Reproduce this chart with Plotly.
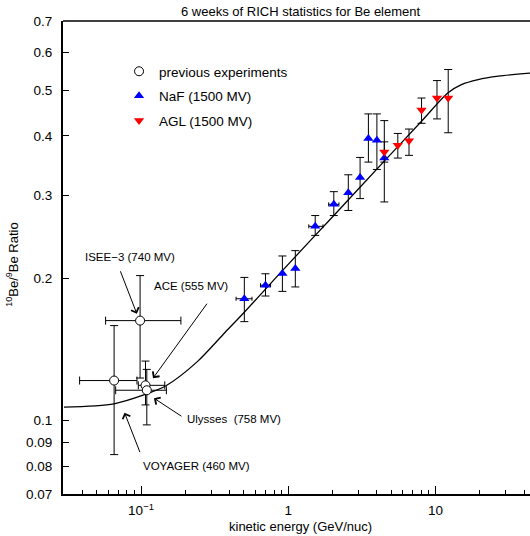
import math
import plotly.graph_objects as go

# ---------------- data ----------------
# previous experiments: ISEE-3, VOYAGER, ACE, Ulysses
prev_x = [0.0986, 0.0657, 0.1073, 0.1095]
prev_y = [0.1628, 0.1216, 0.1188, 0.1160]
prev_y_hi = [0.2027, 0.1589, 0.1337, 0.1284]
prev_y_lo = [0.1231, 0.0848, 0.1080, 0.0980]
prev_x_lo = [0.0575, 0.0383, 0.0959, 0.0673]
prev_x_hi = [0.1866, 0.0939, 0.1450, 0.1487]

# NaF (1500 MV)
naf_x = [0.503, 0.700, 0.912, 1.116, 1.523, 2.037, 2.555, 3.072, 3.498, 3.995, 4.485]
naf_y = [0.1811, 0.1934, 0.2048, 0.2099, 0.2576, 0.2867, 0.3035, 0.3268, 0.3952, 0.3919, 0.3592]
naf_y_hi = [0.2009, 0.2045, 0.2230, 0.2289, 0.2715, 0.3050, 0.3311, 0.3603, 0.4453, 0.4453, 0.3887]
naf_y_lo = [0.1620, 0.1835, 0.1877, 0.1918, 0.2465, 0.2715, 0.2783, 0.2949, 0.3522, 0.3398, 0.2901]
naf_x_lo = [0.442, 0.6475, 0.912, 1.116, 1.378, 1.880, 2.555, 3.072, 3.498, 3.995, 4.485]
naf_x_hi = [0.567, 0.758, 0.912, 1.116, 1.720, 2.206, 2.555, 3.072, 3.498, 3.995, 4.485]

# AGL (1500 MV)
agl_x = [4.485, 5.54, 6.60, 8.03, 10.22, 12.18]
agl_y = [0.3699, 0.3823, 0.3906, 0.4540, 0.4811, 0.4811]
agl_y_hi = [0.4310, 0.4049, 0.4137, 0.4811, 0.5238, 0.5528]
agl_y_lo = [0.3522, 0.3592, 0.3640, 0.4254, 0.4346, 0.4063]

# model curve
model_x = [0.03, 0.0656, 0.1056, 0.1487, 0.2423, 0.3718, 0.5028, 0.912, 2.037,
           4.485, 8.025, 12.1, 14.97, 19.46, 26.7, 45.1]
model_y = [0.1068, 0.1086, 0.1135, 0.1187, 0.1335, 0.1537, 0.1696, 0.2077, 0.2716,
           0.3538, 0.4297, 0.4931, 0.5136, 0.5263, 0.5351, 0.5438]

y_ticks = [0.07, 0.08, 0.09, 0.1, 0.2, 0.3, 0.4, 0.5, 0.6, 0.7]
y_ticktext = ["0.07", "0.08", "0.09", "0.1", "0.2", "0.3", "0.4", "0.5", "0.6", "0.7"]
x_ticks = [0.1, 1, 10]
x_ticktext = ["10<sup>\u22121</sup>", "1", "10"]
x_minor = [0.04, 0.05, 0.06, 0.07, 0.08, 0.09, 0.2, 0.3, 0.4, 0.5, 0.6, 0.7, 0.8, 0.9,
           2, 3, 4, 5, 6, 7, 8, 9, 20, 30, 40]

label_texts = ["ISEE\u22123 (740 MV)", "ACE (555 MV)", "Ulysses  (758 MV)", "VOYAGER (460 MV)"]

FONT = "Liberation Sans"
L = math.log10


def plus(vals, hi):
    return [h - v for v, h in zip(vals, hi)]


def minus(vals, lo):
    return [v - l for v, l in zip(vals, lo)]


eb = dict(type="data", symmetric=False, color="black", thickness=1, width=4)

fig = go.Figure()

fig.add_trace(go.Scatter(
    x=model_x, y=model_y, mode="lines",
    line=dict(color="black", width=1.3, shape="spline", smoothing=0.8),
    showlegend=False, hoverinfo="skip"))

fig.add_trace(go.Scatter(
    x=prev_x, y=prev_y, mode="markers", name="previous experiments", legendgroup="a",
    marker=dict(symbol="circle", size=9, color="white", line=dict(color="black", width=1)),
    error_y=dict(eb, array=plus(prev_y, prev_y_hi), arrayminus=minus(prev_y, prev_y_lo)),
    error_x=dict(eb, array=plus(prev_x, prev_x_hi), arrayminus=minus(prev_x, prev_x_lo))))

fig.add_trace(go.Scatter(
    x=naf_x, y=naf_y, mode="markers", name="NaF (1500 MV)", legendgroup="b",
    marker=dict(symbol="triangle-up", size=9, color="#0000ff", line=dict(width=0)),
    error_y=dict(eb, array=plus(naf_y, naf_y_hi), arrayminus=minus(naf_y, naf_y_lo)),
    error_x=dict(eb, array=plus(naf_x, naf_x_hi), arrayminus=minus(naf_x, naf_x_lo), width=2)))

fig.add_trace(go.Scatter(
    x=agl_x, y=agl_y, mode="markers", name="AGL (1500 MV)", legendgroup="c",
    marker=dict(symbol="triangle-down", size=9, color="#ff0000", line=dict(width=0)),
    error_y=dict(eb, array=plus(agl_y, agl_y_hi), arrayminus=minus(agl_y, agl_y_lo))))

annotations = []
# arrows (tip at data location, tail offset in px)
arrows = [
    (L(0.0937), L(0.1683), -17, -44),   # ISEE-3
    (L(0.1207), L(0.1230), 55, -76),    # ACE
    (L(0.1224), L(0.1116), 29, 19),     # Ulysses
    (L(0.0773), L(0.1040), 16, 41),     # VOYAGER
]
for ax_, ay_, dx, dy in arrows:
    annotations.append(dict(x=ax_, y=ay_, xref="x", yref="y", text="", showarrow=True,
                            ax=dx, ay=dy, axref="pixel", ayref="pixel",
                            arrowhead=4, arrowsize=1.6, arrowwidth=1, arrowcolor="black"))


def px2paper(px, py):
    return (px - 63) / 467.0, (494.3 - py) / 473.3


label_pos = [(83, 257), (152, 286), (185, 419), (141, 466)]
for t, (px, py) in zip(label_texts, label_pos):
    xp, yp = px2paper(px, py)
    annotations.append(dict(x=xp, y=yp, xref="paper", yref="paper", text=t, showarrow=False,
                            xanchor="left", yanchor="middle",
                            font=dict(size=11.5, family=FONT, color="black")))

xp, yp = px2paper(300.5, 11)
annotations.append(dict(x=xp, y=yp, xref="paper", yref="paper", showarrow=False,
                        text="6 weeks of RICH statistics for Be element",
                        xanchor="center", yanchor="middle",
                        font=dict(size=13, family=FONT, color="black")))
xp, yp = px2paper(300, 527)
annotations.append(dict(x=xp, y=yp, xref="paper", yref="paper", showarrow=False,
                        text="kinetic energy (GeV/nuc)",
                        xanchor="center", yanchor="middle",
                        font=dict(size=13, family=FONT, color="black")))
xp, yp = px2paper(12, 265)
annotations.append(dict(x=xp, y=yp, xref="paper", yref="paper", showarrow=False, textangle=-90,
                        text="<sup>10</sup>Be/<sup>9</sup>Be Ratio",
                        xanchor="center", yanchor="middle",
                        font=dict(size=13, family=FONT, color="black")))

fig.update_layout(
    width=530, height=536,
    margin=dict(l=63, r=0, t=21, b=42),
    paper_bgcolor="white", plot_bgcolor="white",
    font=dict(family=FONT, size=13.5, color="black"),
    annotations=annotations,
    shapes=[dict(type="line", xref="paper", yref="paper", x0=0, x1=1, y0=1, y1=1,
                 line=dict(color="black", width=1.5))],
    legend=dict(x=0.120, y=0.926, xanchor="left", yanchor="top", bgcolor="rgba(0,0,0,0)",
                borderwidth=0, font=dict(size=13.5, family=FONT), tracegroupgap=4),
    xaxis=dict(type="log", range=[-1.5295, 1.6409], tickvals=x_ticks, ticktext=x_ticktext,
               ticks="inside", ticklen=8, tickwidth=1, tickcolor="black",
               showline=True, linewidth=2, linecolor="black", showgrid=False, zeroline=False,
               tickfont=dict(size=13.5), ticklabelstandoff=3,
               minor=dict(tickmode="array", tickvals=x_minor, ticks="inside", ticklen=4.5,
                          tickwidth=1, tickcolor="black", showgrid=False)),
    yaxis=dict(type="log", range=[L(0.07), L(0.7)], tickvals=y_ticks, ticktext=y_ticktext,
               ticks="inside", ticklen=6, tickwidth=1, tickcolor="black",
               showline=True, linewidth=2, linecolor="black", showgrid=False, zeroline=False,
               tickfont=dict(size=13.5), ticklabelstandoff=6),
)

fig.write_html("out.html", config={"displayModeBar": False},
               post_script="document.body.style.margin='0';document.body.style.overflow='hidden';")
